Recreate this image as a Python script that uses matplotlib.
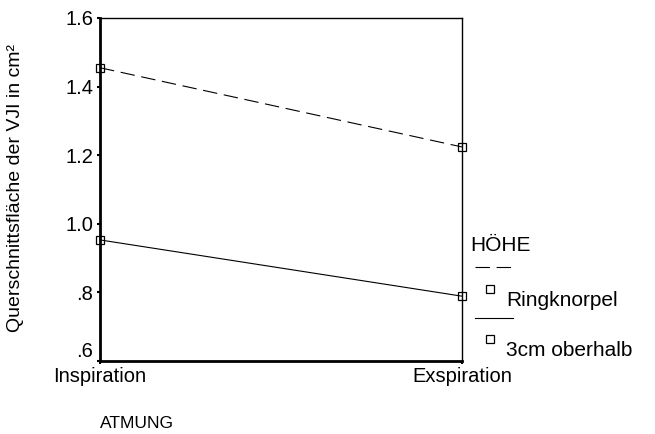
import matplotlib.pyplot as plt
from matplotlib.lines import Line2D

plt.rcParams['font.family'] = ['Liberation Sans', 'DejaVu Sans']

# data
atmung = ['Inspiration', 'Exspiration']
ringknorpel = [1.455, 1.224]
oberhalb = [0.953, 0.789]
yticks = [0.6, 0.8, 1.0, 1.2, 1.4, 1.6]
ytick_labels = ['.6', '.8', '1.0', '1.2', '1.4', '1.6']

fig = plt.figure(figsize=(6.55, 4.34), dpi=100)
ax = fig.add_axes([100/655, 1-361/434, 362/655, 343/434])

xs = list(range(len(atmung)))
ax.plot(xs, ringknorpel, color='black', lw=0.8, dashes=(13, 6),
        marker='s', ms=6, mfc='none', mec='black', mew=0.9, clip_on=False)
ax.plot(xs, oberhalb, color='black', lw=0.8,
        marker='s', ms=6, mfc='none', mec='black', mew=0.9, clip_on=False)

ax.set_xlim(0, 1)
ax.set_ylim(0.6, 1.6)
ax.set_xticks(xs)
ax.set_xticklabels(atmung, fontsize=14.5)
ax.set_yticks(yticks)
ax.set_yticklabels(ytick_labels, fontsize=14.5)
ax.get_yticklabels()[0].set_va('bottom')
ax.tick_params(length=2, width=1.5, pad=3)
ax.tick_params(axis='x', pad=2)
for s in ['left', 'bottom']:
    ax.spines[s].set_linewidth(2)
for s in ['top', 'right']:
    ax.spines[s].set_linewidth(1)

fig.text(16/655, 1-188/434, 'Querschnittsfläche der VJI in cm²', rotation=90,
         ha='center', va='center', fontsize=14)
fig.text(100/655, 1-424/434, 'ATMUNG', ha='left', va='center', fontsize=12.5)

# legend
fig.text(470/655, 1-245/434, 'HÖHE', ha='left', va='center', fontsize=15)
fig.add_artist(Line2D([475/655, 513/655], [1-267/434]*2, color='black', lw=0.8,
                      dashes=(13, 6), transform=fig.transFigure))
fig.add_artist(Line2D([490/655], [1-289/434], marker='s', ms=6, mfc='none',
                      mec='black', mew=0.9, transform=fig.transFigure))
fig.text(506/655, 1-300/434, 'Ringknorpel', ha='left', va='center', fontsize=15)
fig.add_artist(Line2D([475/655, 513/655], [1-318/434]*2, color='black', lw=0.8,
                      transform=fig.transFigure))
fig.add_artist(Line2D([490/655], [1-339/434], marker='s', ms=6, mfc='none',
                      mec='black', mew=0.9, transform=fig.transFigure))
fig.text(506/655, 1-350/434, '3cm oberhalb', ha='left', va='center', fontsize=15)

fig.savefig('out.png', dpi=100)
